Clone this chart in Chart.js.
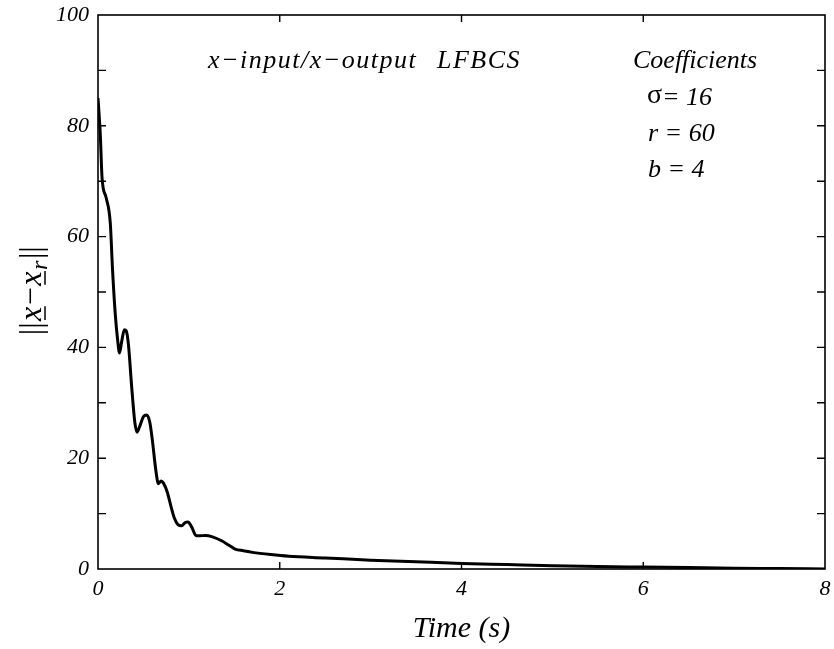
<!DOCTYPE html>
<html>
<head>
<meta charset="utf-8">
<script src="https://cdn.jsdelivr.net/npm/chart.js@4.4.1/dist/chart.umd.min.js"></script>
<style>
  html, body { margin: 0; padding: 0; background: #fff; }
  #wrap { width: 834px; height: 649px; }
</style>
</head>
<body>
<div id="wrap"><canvas id="errChart" width="834" height="649"></canvas></div>
<script>
// time axis (s) and error norm ||x - x_r||
const timeS = [0, 0.025, 0.045, 0.09, 0.135, 0.16, 0.19, 0.215, 0.237, 0.26, 0.29, 0.31, 0.335, 0.37,
    0.405, 0.43, 0.46, 0.5, 0.535, 0.57, 0.6, 0.635, 0.665, 0.695, 0.72, 0.76, 0.8, 0.84, 0.88, 0.92,
    0.96, 0.99, 1.03, 1.08, 1.12, 1.18, 1.26, 1.36, 1.44, 1.51, 1.6, 1.7, 1.9, 2.1, 2.5, 3.0, 3.5,
    4.0, 4.5, 5.0, 5.5, 6.0, 6.5, 7.0, 7.5, 8.0];
const errNorm = [85, 78.5, 70.5, 67, 62.5, 54, 46, 41.5, 39, 41, 43.2, 43, 40.5, 33,
    26.5, 24.7, 25.8, 27.5, 27.8, 26.5, 23, 18, 15.4, 15.9, 15.5, 14, 11.5, 9.2, 8, 7.8,
    8.4, 8.5, 7.6, 6.0, 6.0, 6.05, 5.8, 5.1, 4.3, 3.6, 3.3, 3.0, 2.6, 2.3, 2.0, 1.6, 1.3,
    1.0, 0.8, 0.6, 0.45, 0.35, 0.25, 0.15, 0.08, 0.0];

const xTicks = [0, 2, 4, 6, 8];
const yTicks = [0, 10, 20, 30, 40, 50, 60, 70, 80, 90, 100];
const yLabelEvery = 20;

const plotTitle = 'x\u2212input/x\u2212output';
const plotTag = 'LFBCS';
const coefHeader = 'Coefficients';
const coefLines = [['\u03c3', '= 16'], ['r', ' = 60'], ['b', ' = 4']];
const xTitle = 'Time (s)';

const SERIF = '"Liberation Serif", "Times New Roman", serif';

// frame, inward ticks and all the text annotations
const framePlugin = {
    id: 'frame',
    afterDraw(chart) {
        const ctx = chart.ctx;
        const a = chart.chartArea;
        const xs = chart.scales.x, ys = chart.scales.y;
        ctx.save();
        ctx.strokeStyle = '#000';
        ctx.lineWidth = 1.6;
        ctx.strokeRect(a.left, a.top, a.right - a.left, a.bottom - a.top);

        ctx.lineWidth = 1.4;
        ctx.beginPath();
        yTicks.forEach(v => {
            if (v === 0 || v === 100) return;
            const py = ys.getPixelForValue(v);
            ctx.moveTo(a.left, py); ctx.lineTo(a.left + 8, py);
            ctx.moveTo(a.right, py); ctx.lineTo(a.right - 8, py);
        });
        xTicks.forEach(v => {
            if (v === 0 || v === 8) return;
            const px = xs.getPixelForValue(v);
            ctx.moveTo(px, a.bottom); ctx.lineTo(px, a.bottom - 7);
            ctx.moveTo(px, a.top); ctx.lineTo(px, a.top + 7);
        });
        ctx.stroke();

        ctx.fillStyle = '#000';
        ctx.textBaseline = 'alphabetic';
        ctx.textAlign = 'left';

        // title inside plot
        ctx.font = 'italic 26px ' + SERIF;
        ctx.letterSpacing = '1.5px';
        ctx.fillText(plotTitle, 208, 68);
        ctx.fillText(plotTag, 437, 68);
        ctx.letterSpacing = '0px';

        // coefficient box
        ctx.fillText(coefHeader, 633, 68);
        const rowsY = [105, 141, 177];
        coefLines.forEach((row, i) => {
            if (row[0] === '\u03c3') {
                ctx.font = '28px ' + SERIF;
                ctx.fillText(row[0], 647, rowsY[i] - 2);
                ctx.font = 'italic 26px ' + SERIF;
                ctx.fillText(row[1], 662, rowsY[i]);
            } else {
                ctx.font = 'italic 26px ' + SERIF;
                ctx.fillText(row[0] + row[1], 648, rowsY[i]);
            }
        });

        // x axis title
        ctx.font = 'italic 30px ' + SERIF;
        ctx.textAlign = 'center';
        ctx.fillText(xTitle, (a.left + a.right) / 2, 637);

        // y axis title ||x - x_r|| with vector underlines
        ctx.translate(41, 290);
        ctx.rotate(-Math.PI / 2);
        ctx.textAlign = 'left';
        const parts = [
            { t: '||', f: '32px ' + SERIF, dy: 0 },
            { t: 'x', f: 'italic 32px ' + SERIF, dy: 0, u: true },
            { t: '\u2212', f: '32px ' + SERIF, dy: 0 },
            { t: 'x', f: 'italic 32px ' + SERIF, dy: 0, u: true },
            { t: 'r', f: 'italic 24px ' + SERIF, dy: 6 },
            { t: '||', f: '32px ' + SERIF, dy: 0 }
        ];
        let total = 0;
        parts.forEach(p => { ctx.font = p.f; p.w = ctx.measureText(p.t).width + 1.5; total += p.w; });
        let cx = -total / 2;
        ctx.lineWidth = 1.5;
        parts.forEach(p => {
            ctx.font = p.f;
            ctx.fillText(p.t, cx, p.dy);
            if (p.u) {
                ctx.beginPath();
                ctx.moveTo(cx + 1, 4);
                ctx.lineTo(cx + p.w - 1, 4);
                ctx.stroke();
            }
            cx += p.w;
        });
        ctx.restore();
    }
};

new Chart(document.getElementById('errChart'), {
    type: 'line',
    data: {
        datasets: [{
            data: timeS.map((t, i) => ({ x: t, y: errNorm[i] })),
            borderColor: '#000',
            borderWidth: 3,
            pointRadius: 0,
            fill: false,
            tension: 0.4,
            cubicInterpolationMode: 'monotone'
        }]
    },
    options: {
        responsive: false,
        animation: false,
        devicePixelRatio: 1,
        layout: { padding: { top: 15, right: 9, left: 0, bottom: 0 } },
        plugins: { legend: { display: false }, tooltip: { enabled: false } },
        scales: {
            x: {
                type: 'linear',
                min: 0,
                max: 8,
                grid: { display: false, drawTicks: false },
                border: { display: false },
                afterBuildTicks: s => { s.ticks = xTicks.map(v => ({ value: v })); },
                ticks: {
                    autoSkip: false,
                    maxRotation: 0,
                    padding: 7,
                    color: '#000',
                    font: { family: SERIF, size: 22, style: 'italic' }
                },
                afterFit: s => { s.height = 80; s.paddingLeft = 0; s.paddingRight = 0; }
            },
            y: {
                min: 0,
                max: 100,
                grid: { display: false, drawTicks: false },
                border: { display: false },
                afterBuildTicks: s => { s.ticks = yTicks.map(v => ({ value: v })); },
                ticks: {
                    autoSkip: false,
                    padding: 9,
                    color: '#000',
                    font: { family: SERIF, size: 22, style: 'italic' },
                    callback: v => (v % yLabelEvery === 0 ? v : '')
                },
                afterFit: s => { s.width = 98; s.paddingTop = 0; s.paddingBottom = 0; }
            }
        }
    },
    plugins: [framePlugin]
});
</script>
</body>
</html>
